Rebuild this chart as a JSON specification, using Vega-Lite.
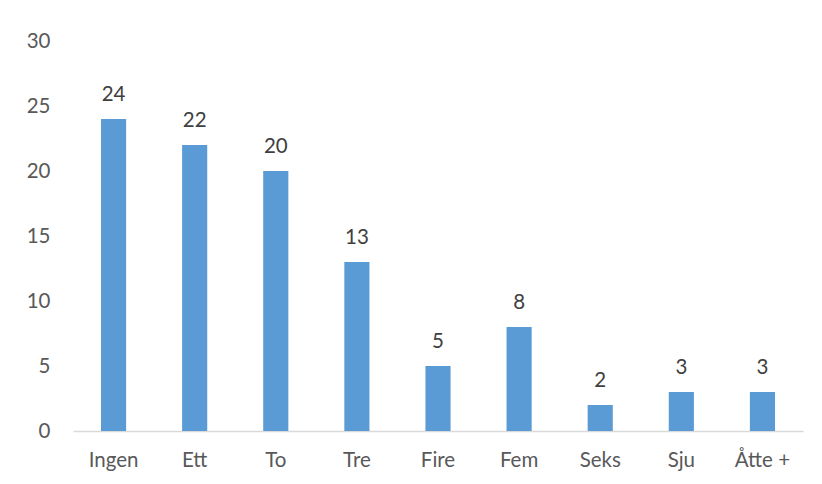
{
  "$schema": "https://vega.github.io/schema/vega-lite/v6.json",
  "width": 730,
  "height": 390,
  "autosize": "none",
  "padding": {"left": 73, "top": 41, "right": 19, "bottom": 53},
  "background": "white",
  "config": {"view": {"stroke": null}, "font": "Lato"},
  "data": {"values": [
    {"k": "Ingen", "v": 24},
    {"k": "Ett", "v": 22},
    {"k": "To", "v": 20},
    {"k": "Tre", "v": 13},
    {"k": "Fire", "v": 5},
    {"k": "Fem", "v": 8},
    {"k": "Seks", "v": 2},
    {"k": "Sju", "v": 3},
    {"k": "Åtte +", "v": 3}
  ]},
  "encoding": {
    "x": {"field": "k", "type": "nominal", "sort": null,
      "scale": {"paddingInner": 0.69, "paddingOuter": 0.345},
      "axis": {"title": null, "labelAngle": 0, "labelFont": "Lato", "labelFontSize": 20.5, "labelColor": "#595959", "labelPadding": 19, "ticks": false, "domainColor": "#D9D9D9", "domainWidth": 1.5}},
    "y": {"field": "v", "type": "quantitative",
      "scale": {"domain": [0, 30]},
      "axis": {"title": null, "values": [0, 5, 10, 15, 20, 25, 30], "grid": false, "domain": false, "ticks": false, "labelFont": "Lato", "labelFontSize": 20.5, "labelColor": "#595959", "labelPadding": 23}}
  },
  "layer": [
    {"mark": {"type": "bar", "color": "#5B9BD5"}},
    {"mark": {"type": "text", "baseline": "bottom", "dy": -14, "font": "Lato", "fontSize": 20.5, "color": "#404040"},
     "encoding": {"text": {"field": "v"}}}
  ]
}
